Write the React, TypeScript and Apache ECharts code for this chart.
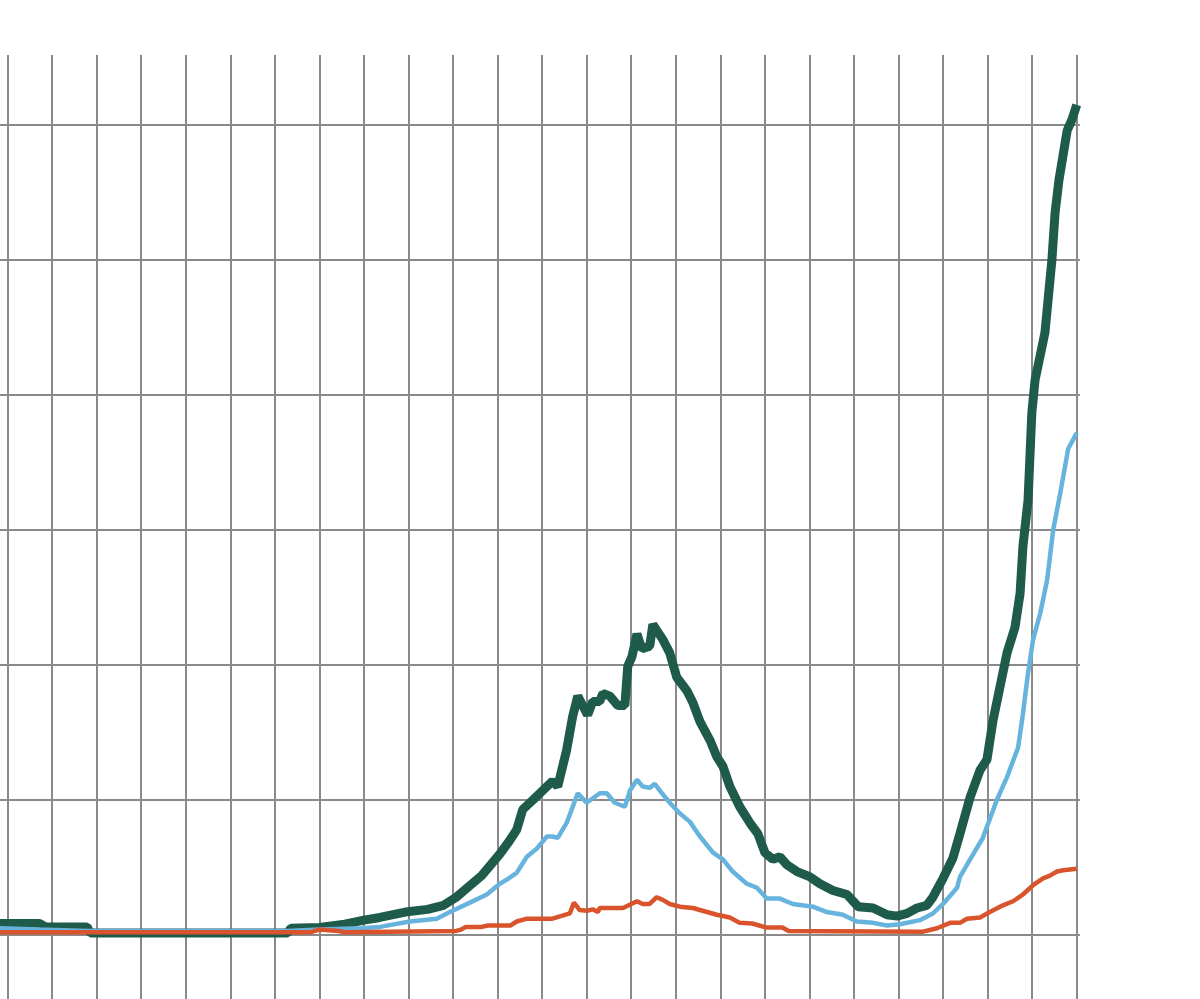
import React, { useEffect, useRef } from "react";
import * as echarts from "echarts";

// x: day index (each vertical gridline = 14 days), y: value (each horizontal gridline = 10)
const greenSeries: [number, number][] = [
  [-2.5, 0.85], [10, 0.85], [12, 0.6], [25, 0.6], [26, 0.15], [88, 0.15], [89, 0.5], [98, 0.55],
  [106, 0.8], [112, 1.1], [117, 1.3], [125, 1.7], [132, 1.9], [137, 2.2], [141, 2.8], [145, 3.6],
  [149, 4.4], [154.7, 6.0], [157.8, 7.0], [160, 7.8], [161.9, 9.3], [165.1, 10.0], [168.2, 10.7],
  [171.3, 11.4], [172.9, 11.0], [175.7, 13.7], [177.6, 16.2], [179.2, 17.7], [182.3, 16.3],
  [183.9, 17.3], [186.1, 17.3], [187.1, 17.9], [189.3, 17.7], [191.8, 17.0], [194, 17.0],
  [194.9, 19.9], [196.2, 20.6], [197.8, 22.3], [199.3, 21.2], [201.8, 21.4], [202.8, 23.0],
  [205.9, 21.9], [208.1, 20.9], [210.3, 19.1], [213.5, 18.1], [215.4, 17.2], [217.6, 15.8],
  [220.8, 14.4], [222.9, 13.2], [224.8, 12.5], [227, 11.0], [230.1, 9.5], [233.3, 8.3],
  [235.8, 7.5], [238, 6.1], [240.5, 5.6], [242.7, 5.8], [244.9, 5.2], [248.1, 4.7], [252.2, 4.3],
  [255.3, 3.8], [259.4, 3.3], [263.8, 3.0], [267.3, 2.1], [272, 2.0], [276.4, 1.5], [279.5, 1.4],
  [282.7, 1.6], [285.8, 2.0], [288.9, 2.2], [290.8, 2.8], [294, 4.2], [297.1, 5.7], [299.3, 7.5],
  [302.5, 10.2], [305.6, 12.2], [307.8, 13.0], [309.7, 15.9], [311.9, 18.4], [314.1, 20.9],
  [316.6, 22.8], [318.2, 25.3], [319.1, 28.8], [320.7, 32.2], [321.9, 38.7], [322.9, 41.1],
  [326, 44.6], [328.2, 50.0], [329.2, 53.5], [330.4, 55.9], [333, 59.6], [334.5, 60.4], [336, 61.5],
];

const blueSeries: [number, number][] = [
  [-2.5, 0.5], [10, 0.4], [25, 0.3], [88, 0.3], [98, 0.4], [111, 0.5], [117, 0.6], [126.4, 1.0],
  [134.9, 1.2], [139, 1.7], [145.3, 2.4], [150.6, 3.0], [154.7, 3.8], [156.9, 4.1], [160, 4.6],
  [163.2, 5.8], [166.3, 6.4], [169.5, 7.3], [171.3, 7.3], [172.9, 7.2], [175.7, 8.3], [179.2, 10.5],
  [182, 9.8], [186.1, 10.5], [188.3, 10.5], [190.8, 9.8], [194, 9.5], [195.6, 10.7], [197.8, 11.5],
  [199.6, 11.0], [201.8, 10.9], [203.4, 11.2], [205, 10.7], [208.1, 9.8], [211.3, 9.0], [214.4, 8.4],
  [217.6, 7.3], [221.7, 6.1], [224.8, 5.6], [227.9, 4.7], [232.3, 3.8], [235.5, 3.5], [238.6, 2.7],
  [242.7, 2.7], [246.8, 2.3], [253.1, 2.1], [257.5, 1.7], [262.5, 1.5], [266.9, 1.0], [272, 0.9],
  [276.4, 0.7], [280.4, 0.8], [286.7, 1.1], [290.8, 1.6], [294, 2.3], [298.4, 3.5], [299.3, 4.3],
  [302.5, 5.6], [306.5, 7.2], [310.9, 10.0], [314.1, 11.7], [317.6, 13.9], [319.1, 16.4],
  [320.7, 19.4], [322.3, 21.9], [324.5, 23.8], [326.7, 26.3], [328.6, 30.0], [330.8, 32.7],
  [333.3, 36.0], [336, 37.2],
];

const orangeSeries: [number, number][] = [
  [-2.5, 0.2], [95, 0.2], [98, 0.4], [104, 0.3], [106, 0.2], [141, 0.3], [142.5, 0.4], [144, 0.6],
  [149, 0.6], [151, 0.7], [158, 0.7], [160, 1.0], [163, 1.2], [171, 1.2], [176.7, 1.6], [178, 2.4],
  [179.8, 1.85], [182, 1.8], [184, 1.9], [185.5, 1.7], [186.1, 2.0], [193.4, 2.0], [197.8, 2.5],
  [199.6, 2.3], [201.8, 2.3], [204, 2.8], [205.9, 2.6], [208.1, 2.3], [211.3, 2.1], [215.4, 2.0],
  [217.6, 1.85], [222.9, 1.5], [227, 1.3], [230.1, 0.9], [234, 0.85], [238.6, 0.55], [243.5, 0.55],
  [245.5, 0.3], [287.7, 0.25], [292.1, 0.5], [296.2, 0.9], [299.3, 0.9], [301.5, 1.2], [305.6, 1.3],
  [308.7, 1.7], [312.8, 2.2], [316, 2.5], [319.1, 3.0], [322.3, 3.7], [325.4, 4.2], [327.6, 4.4],
  [329.8, 4.7], [331.7, 4.8], [336, 4.9],
];

const X_MIN = -14;
const X_MAX = 337;
const X_STEP = 14;
const Y_MIN = -10;
const Y_MAX = 65.19;
const Y_STEP = 10;

export default function App() {
  const ref = useRef<HTMLDivElement>(null);
  useEffect(() => {
    if (!ref.current) return;
    const chart = echarts.init(ref.current, null, { renderer: "svg" });
    const gridLine = { show: true, lineStyle: { color: "#8a8a8a", width: 2 } };
    chart.setOption({
      animation: false,
      backgroundColor: "#ffffff",
      grid: { left: 0, right: 120.1, top: 55, bottom: 0, containLabel: false },
      xAxis: {
        type: "value",
        min: X_MIN,
        max: X_MAX,
        interval: X_STEP,
        axisLine: { show: false },
        axisTick: { show: false },
        axisLabel: { show: false },
        splitLine: { ...gridLine, showMaxLine: false },
      },
      yAxis: {
        type: "value",
        min: Y_MIN,
        max: Y_MAX,
        interval: Y_STEP,
        axisLine: { show: false },
        axisTick: { show: false },
        axisLabel: { show: false },
        splitLine: { ...gridLine, showMaxLine: false },
      },
      series: [
        {
          type: "line",
          data: greenSeries,
          showSymbol: false,
          lineStyle: { color: "#1e5b4b", width: 9 },
          z: 2,
        },
        {
          type: "line",
          data: blueSeries,
          showSymbol: false,
          lineStyle: { color: "#66b4de", width: 4.5 },
          z: 3,
        },
        {
          type: "line",
          data: orangeSeries,
          showSymbol: false,
          lineStyle: { color: "#d9542c", width: 4.5 },
          z: 4,
        },
      ],
    });
    return () => chart.dispose();
  }, []);
  return (
    <div
      style={{
        position: "absolute",
        left: 0,
        top: 0,
        width: 1200,
        height: 999,
        overflow: "hidden",
        background: "#ffffff",
      }}
    >
      <div
        ref={ref}
        style={{ position: "absolute", left: -36.53, top: 0, width: 1236.53, height: 1070 }}
      />
    </div>
  );
}
